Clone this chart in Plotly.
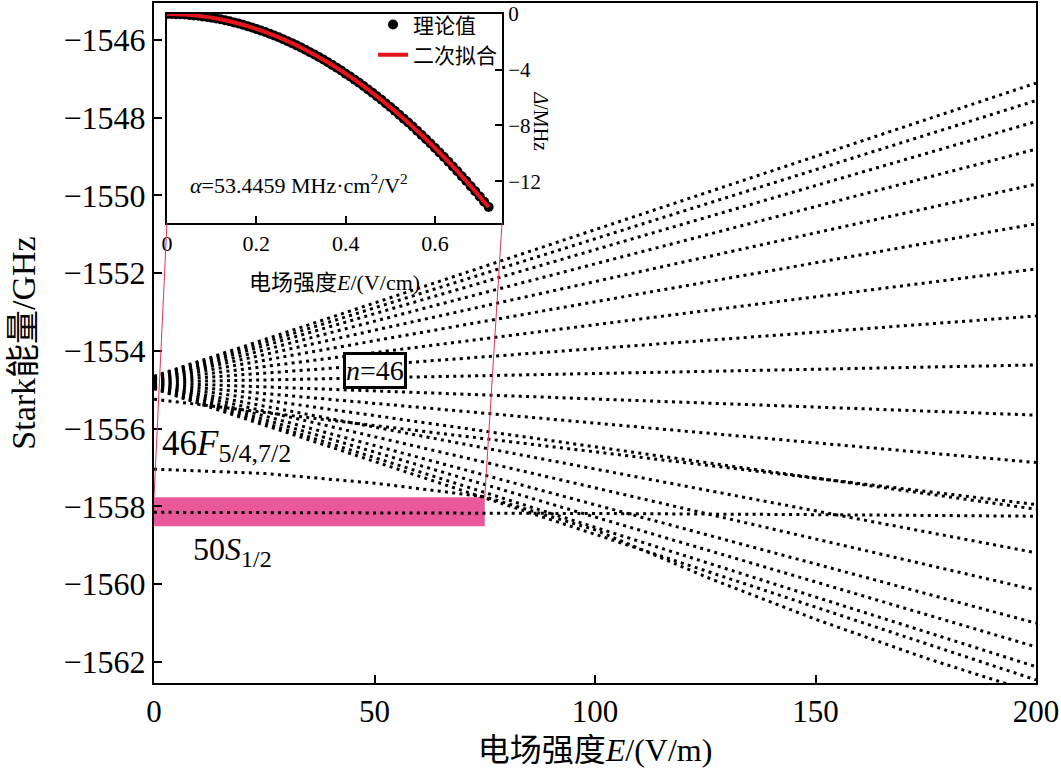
import plotly.graph_objects as go

# ---------------- data ----------------
# main Stark map (E in V/m, energy in GHz)
field_range = [0, 200]
manifold_start = [-1554.65, -1554.67, -1554.69, -1554.71, -1554.72, -1554.74,
                  -1554.76, -1554.78, -1554.80, -1554.82, -1554.84, -1554.86,
                  -1554.88, -1554.89, -1554.91, -1554.93, -1554.95, -1554.97]
manifold_end = [-1547.11, -1547.56, -1548.10, -1548.81, -1549.71, -1550.73,
                -1551.89, -1553.10, -1554.36, -1555.65, -1556.87, -1558.07,
                -1559.19, -1560.15, -1561.00, -1561.61, -1562.12, -1562.46]
extra_line_start = -1555.24
extra_line_end = -1557.95
f46_E = [0, 25, 50, 75, 100, 126, 150, 175, 200]
f46_GHz = [-1557.04, -1557.15, -1557.40, -1557.75, -1558.60, -1559.85,
           -1560.90, -1561.90, -1562.80]
s50_E = [0, 50, 100, 150, 200]
s50_GHz = [-1558.15, -1558.16, -1558.18, -1558.21, -1558.25]
zoom_box_E = [0, 75]
zoom_box_GHz = [-1558.51, -1557.76]

main_xticks = [0, 50, 100, 150, 200]
main_yticks = [-1546, -1548, -1550, -1552, -1554, -1556, -1558, -1560, -1562]

# inset: 50S1/2 shift (E in V/cm, shift in MHz)
inset_E = [0.00, 0.01, 0.02, 0.03, 0.04, 0.05, 0.06, 0.07, 0.08, 0.09,
           0.10, 0.11, 0.12, 0.13, 0.14, 0.15, 0.16, 0.17, 0.18, 0.19,
           0.20, 0.21, 0.22, 0.23, 0.24, 0.25, 0.26, 0.27, 0.28, 0.29,
           0.30, 0.31, 0.32, 0.33, 0.34, 0.35, 0.36, 0.37, 0.38, 0.39,
           0.40, 0.41, 0.42, 0.43, 0.44, 0.45, 0.46, 0.47, 0.48, 0.49,
           0.50, 0.51, 0.52, 0.53, 0.54, 0.55, 0.56, 0.57, 0.58, 0.59,
           0.60, 0.61, 0.62, 0.63, 0.64, 0.65, 0.66, 0.67, 0.68, 0.69,
           0.70, 0.71, 0.72]
inset_MHz = [0.00, 0.00, -0.01, -0.02, -0.04, -0.07, -0.10, -0.13, -0.17, -0.22,
             -0.27, -0.32, -0.38, -0.45, -0.52, -0.60, -0.68, -0.77, -0.87, -0.96,
             -1.07, -1.18, -1.29, -1.41, -1.54, -1.67, -1.81, -1.95, -2.09, -2.25,
             -2.40, -2.57, -2.74, -2.91, -3.09, -3.27, -3.46, -3.66, -3.86, -4.06,
             -4.28, -4.49, -4.71, -4.94, -5.17, -5.41, -5.65, -5.90, -6.16, -6.42,
             -6.68, -6.95, -7.23, -7.51, -7.79, -8.08, -8.38, -8.68, -8.99, -9.30,
             -9.62, -9.94, -10.27, -10.61, -10.94, -11.29, -11.64, -11.99, -12.36, -12.72,
             -13.09, -13.47, -13.85]
fit_E = [0.00, 0.04, 0.08, 0.12, 0.16, 0.20, 0.24, 0.28, 0.32, 0.36,
         0.40, 0.44, 0.48, 0.52, 0.56, 0.60, 0.64, 0.68, 0.72]
fit_MHz = [0.00, -0.04, -0.17, -0.38, -0.68, -1.07, -1.54, -2.09, -2.74, -3.46,
           -4.28, -5.17, -6.16, -7.23, -8.38, -9.62, -10.94, -12.36, -13.85]
inset_xrange = [0, 0.75]
inset_yrange = [-15, 0]
inset_xticks = [0, 0.2, 0.4, 0.6]
inset_xticktext = ["0", "0.2", "0.4", "0.6"]
inset_yticks = [0, -4, -8, -12]

# ---------------- styles ----------------
FONT = "Liberation Serif, Times New Roman, Noto Sans CJK SC"
DOT = dict(color="black", width=3, dash="3px,4.3px")
PINK = "#E9599A"
CONNECT = "#F0304A"

main_dom_x = [0.0, 1.0]
main_dom_y = [0.0, 1.0]
inset_dom_x = [0.0147, 0.3946]
inset_dom_y = [0.6765, 0.9838]
main_yrange = [-1562.54, -1545.05]

fig = go.Figure()

# manifold lines
for s, e in zip(manifold_start, manifold_end):
    fig.add_trace(go.Scatter(x=field_range, y=[s, e], mode="lines",
                             line=DOT, showlegend=False, hoverinfo="skip"))
fig.add_trace(go.Scatter(x=field_range, y=[extra_line_start, extra_line_end], mode="lines",
                         line=DOT, showlegend=False, hoverinfo="skip"))
fig.add_trace(go.Scatter(x=f46_E, y=f46_GHz, mode="lines", line=DOT,
                         showlegend=False, hoverinfo="skip"))
fig.add_trace(go.Scatter(x=s50_E, y=s50_GHz, mode="lines", line=DOT,
                         showlegend=False, hoverinfo="skip"))

# inset traces
fig.add_trace(go.Scatter(x=inset_E, y=inset_MHz, mode="markers", name="理论值",
                         marker=dict(color="black", size=10),
                         xaxis="x2", yaxis="y2"))
fig.add_trace(go.Scatter(x=fit_E, y=fit_MHz, mode="lines", name="二次拟合",
                         line=dict(color="#E8141B", width=4, shape="spline"),
                         xaxis="x2", yaxis="y2"))

# zoom box (pink)
fig.add_shape(type="rect", xref="x", yref="y", layer="below",
              x0=zoom_box_E[0], x1=zoom_box_E[1], y0=zoom_box_GHz[0], y1=zoom_box_GHz[1],
              fillcolor=PINK, line=dict(width=0))

# connector lines from box top corners to inset bottom corners
xspan = field_range[1] - field_range[0]
yspan = main_yrange[1] - main_yrange[0]
inset_left_E = field_range[0] + (inset_dom_x[0] - main_dom_x[0]) * xspan
inset_right_E = field_range[0] + (inset_dom_x[1] - main_dom_x[0]) * xspan
inset_bottom_GHz = main_yrange[0] + (inset_dom_y[0] - main_dom_y[0]) * yspan
for bx, ix in [(zoom_box_E[0], inset_left_E), (zoom_box_E[1], inset_right_E)]:
    fig.add_shape(type="line", xref="x", yref="y", layer="above",
                  x0=bx, y0=zoom_box_GHz[1], x1=ix, y1=inset_bottom_GHz,
                  line=dict(color=CONNECT, width=1))

axis_common = dict(showline=True, linecolor="black", linewidth=2, mirror=True,
                   ticks="inside", tickcolor="black", tickwidth=2,
                   showgrid=False, zeroline=False, automargin=False)

fig.update_layout(
    width=1061, height=771,
    margin=dict(l=154, r=25, t=3, b=88, autoexpand=False),
    paper_bgcolor="white", plot_bgcolor="white",
    font=dict(family=FONT, color="black"),
    xaxis=dict(**axis_common, domain=main_dom_x, range=field_range,
               tickvals=main_xticks, ticklen=8,
               tickfont=dict(size=31, family=FONT),
               title=dict(text="电场强度<i>E</i>/(V/m)", font=dict(size=32, family=FONT),
                          standoff=10)),
    yaxis=dict(**axis_common, domain=main_dom_y, range=main_yrange,
               tickvals=main_yticks, ticklen=8,
               tickfont=dict(size=32, family=FONT),
               title=dict(text="Stark能量/GHz", font=dict(size=34, family=FONT),
                          standoff=18)),
    xaxis2=dict(**axis_common, domain=inset_dom_x, anchor="y2", range=inset_xrange,
                tickvals=inset_xticks, ticktext=inset_xticktext, ticklen=7,
                tickfont=dict(size=22, family=FONT)),
    yaxis2=dict(**axis_common, domain=inset_dom_y, anchor="x2", side="right",
                range=inset_yrange, tickvals=inset_yticks, ticklen=7,
                tickfont=dict(size=21, family=FONT)),
    legend=dict(x=inset_dom_x[1], xanchor="right", y=0.998, yanchor="top",
                bgcolor="rgba(0,0,0,0)", font=dict(size=21, family=FONT),
                itemwidth=30, tracegroupgap=0),
    showlegend=True,
)

annotations = [
    dict(text="电场强度<i>E</i>/(V/cm)", xref="paper", yref="paper",
         x=(inset_dom_x[0] + inset_dom_x[1]) / 2, y=0.589, xanchor="center",
         yanchor="middle", showarrow=False, font=dict(size=22, family=FONT)),
    dict(text="<i>Δ</i>/MHz", xref="paper", yref="paper", x=0.4385, y=0.826,
         xanchor="center", yanchor="middle",
         textangle=90, showarrow=False, font=dict(size=20, family=FONT)),
    dict(text="<i>α</i>=53.4459 MHz·cm<sup>2</sup>/V<sup>2</sup>", xref="x2", yref="y2",
         x=0.048, y=-12.2, xanchor="left", showarrow=False, font=dict(size=22, family=FONT)),
    dict(text="<i>n</i>=46", xref="x", yref="y", x=50.2, y=-1554.5, showarrow=False,
         bordercolor="black", borderwidth=3, borderpad=0, bgcolor="white",
         font=dict(size=28, family=FONT)),
    dict(text="46<i>F</i><sub><span style=\"font-size:26px\">5/4,7/2</span></sub>",
         xref="x", yref="y", x=1.3, y=-1556.45,
         xanchor="left", showarrow=False, font=dict(size=35, family=FONT)),
    dict(text="50<i>S</i><sub><span style=\"font-size:24px\">1/2</span></sub>",
         xref="x", yref="y", x=8.5, y=-1559.15,
         xanchor="left", showarrow=False, font=dict(size=32, family=FONT)),
]
fig.update_layout(annotations=annotations)

fig.write_html("out.html", config={"displayModeBar": False},
               post_script="document.body.style.margin='0';")
